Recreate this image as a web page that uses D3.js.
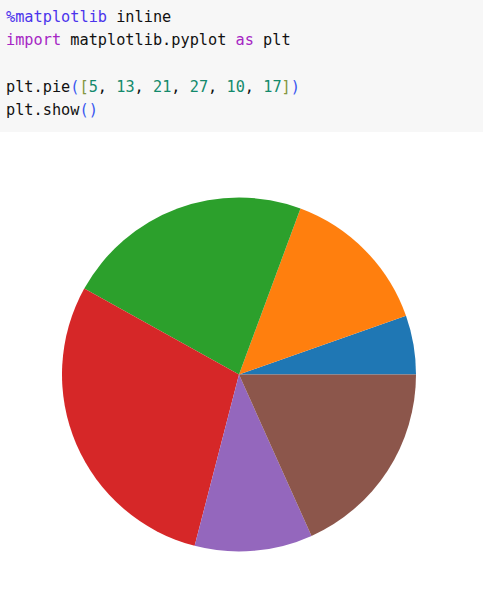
<!DOCTYPE html>
<html>
<head>
<meta charset="utf-8">
<script src="https://cdn.jsdelivr.net/npm/d3@7"></script>
<style>
  html, body { margin: 0; padding: 0; background: #fff; }
  svg { display: block; }
</style>
</head>
<body>
<svg id="chart" width="483" height="606"></svg>
<script>
/*******************************************************************************************/
// Data

var values = [5, 13, 21, 27, 10, 17];
var colors = ['#1f77b4', '#ff7f0e', '#2ca02c', '#d62728', '#9467bd', '#8c564b'];

// code cell lines, as [text, colour] pieces
var codeLines = [
  [['%matplotlib', '#4b34ec'], [' inline', '#111']],
  [['import', '#a626c4'], [' matplotlib.pyplot ', '#111'], ['as', '#a626c4'], [' plt', '#111']],
  [],
  [['plt.pie', '#111'], ['(', '#3a58f0'], ['[', '#849640'], ['5', '#138a6c'], [', ', '#111'],
   ['13', '#138a6c'], [', ', '#111'], ['21', '#138a6c'], [', ', '#111'], ['27', '#138a6c'],
   [', ', '#111'], ['10', '#138a6c'], [', ', '#111'], ['17', '#138a6c'], [']', '#849640'], [')', '#3a58f0']],
  [['plt.show', '#111'], ['()', '#3a58f0']]
];

/*******************************************************************************************/
// Code cell

var svg = d3.select('#chart');

svg.append('rect')
  .attr('x', 0).attr('y', 0).attr('width', 483).attr('height', 132)
  .attr('fill', '#f7f7f7');

var code = svg.append('text')
  .attr('font-family', "'DejaVu Sans Mono', monospace")
  .attr('font-size', '15.25px')
  .style('white-space', 'pre');

codeLines.forEach(function(line, i){
  var t = code.append('tspan').attr('x', 6).attr('y', 22 + i*23.3);
  if(line.length == 0) t.text(' ');
  line.forEach(function(p, j){
    if(j == 0) t.attr('fill', p[1]).text(p[0]);
    else code.append('tspan').attr('fill', p[1]).text(p[0]);
  });
});

/*******************************************************************************************/
// Pie (matplotlib: start at 3 o'clock, counter-clockwise)

var cx = 239, cy = 374.5, radius = 177;

var pie = d3.pie().sort(null)
  .startAngle(Math.PI/2)
  .endAngle(Math.PI/2 - 2*Math.PI);

var arc = d3.arc().innerRadius(0).outerRadius(radius);

var g = svg.append('g').attr('transform', 'translate(' + cx + ',' + cy + ')');

g.selectAll('path')
  .data(pie(values))
  .enter().append('path')
  .attr('d', arc)
  .attr('fill', function(d, i){ return colors[i]; });
</script>
</body>
</html>
